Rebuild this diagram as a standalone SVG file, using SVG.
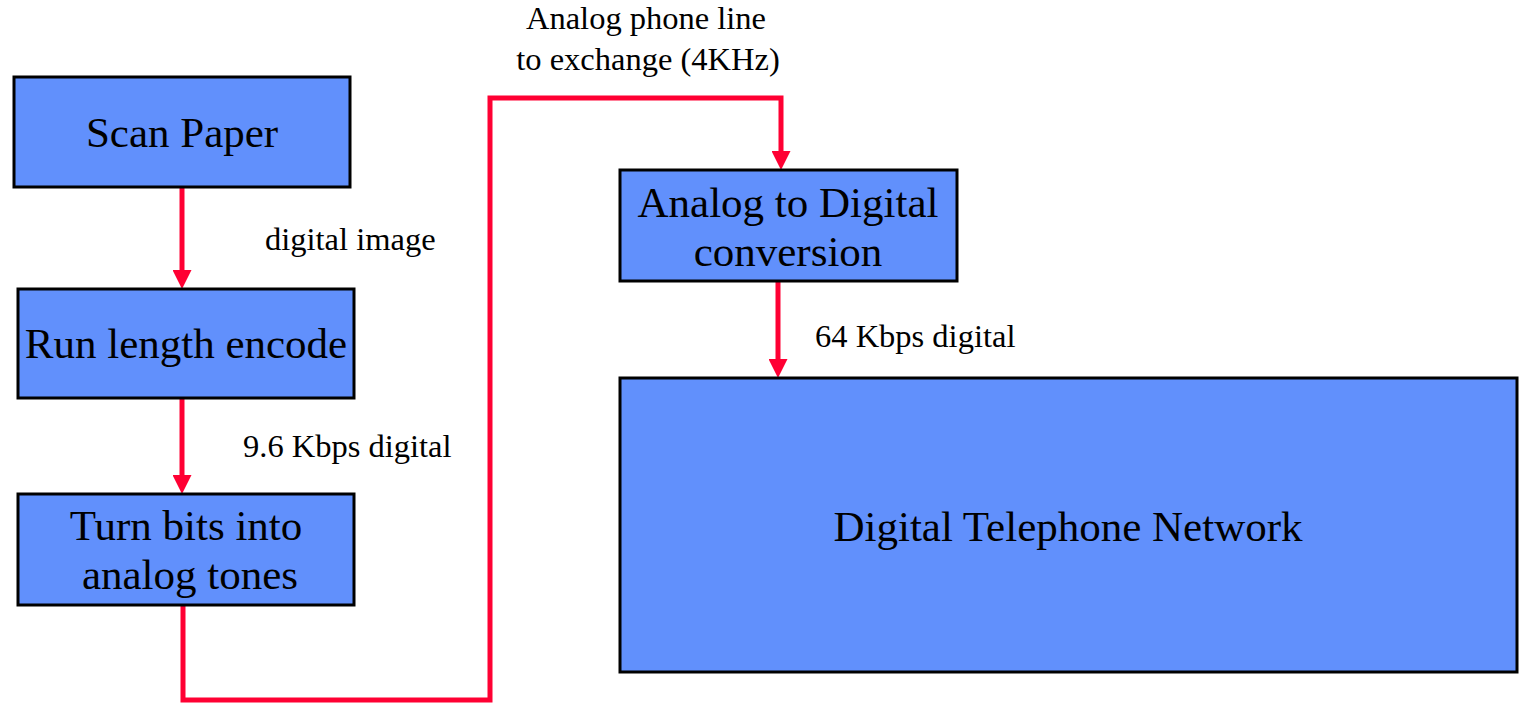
<svg xmlns="http://www.w3.org/2000/svg" width="1522" height="705" viewBox="0 0 1522 705">
<style>
.box{fill:#6190FC;stroke:#000;stroke-width:3}
.nt{font-family:"Liberation Serif",serif;font-size:43px;fill:#000;text-anchor:middle}
.lt{font-family:"Liberation Serif",serif;font-size:32.5px;fill:#000}
.c{fill:none;stroke:#FF0033;stroke-width:5}
</style>
<defs>
<marker id="ah" markerUnits="userSpaceOnUse" markerWidth="19" markerHeight="19" refX="8" refY="9.5" orient="auto" viewBox="0 0 19 19">
<path d="M0,0 L19,9.5 L0,19 z" fill="#FF0033"/>
</marker>
</defs>
<rect width="1522" height="705" fill="#fff"/>
<g id="connectors">
<path class="c" d="M182,187 V278" marker-end="url(#ah)"/>
<path class="c" d="M182,398 V483" marker-end="url(#ah)"/>
<path class="c" d="M183,605 V700 H490 V98 H781 V159" marker-end="url(#ah)"/>
<path class="c" d="M778,281 V367" marker-end="url(#ah)"/>
</g>
<g id="labels">
<text class="lt" x="265" y="250">digital image</text>
<text class="lt" x="243" y="457">9.6 Kbps digital</text>
<text class="lt" x="815" y="347">64 Kbps digital</text>
<text class="lt" x="646" y="29" text-anchor="middle">Analog phone line</text>
<text class="lt" x="648" y="70" text-anchor="middle">to exchange (4KHz)</text>
</g>
<g id="scan">
<rect class="box" x="14" y="77" width="336" height="110"/>
<text class="nt" x="182" y="147">Scan Paper</text>
</g>
<g id="rle">
<rect class="box" x="18" y="289" width="336" height="109"/>
<text class="nt" x="186" y="358">Run length encode</text>
</g>
<g id="tones">
<rect class="box" x="18" y="494" width="336" height="111"/>
<text class="nt" x="186" y="540">Turn bits into</text>
<text class="nt" x="190" y="589">analog tones</text>
</g>
<g id="adc">
<rect class="box" x="620" y="170" width="337" height="111"/>
<text class="nt" x="788" y="217">Analog to Digital</text>
<text class="nt" x="788" y="266">conversion</text>
</g>
<g id="network">
<rect class="box" x="620" y="378" width="897" height="294"/>
<text class="nt" x="1068" y="541">Digital Telephone Network</text>
</g>
</svg>
